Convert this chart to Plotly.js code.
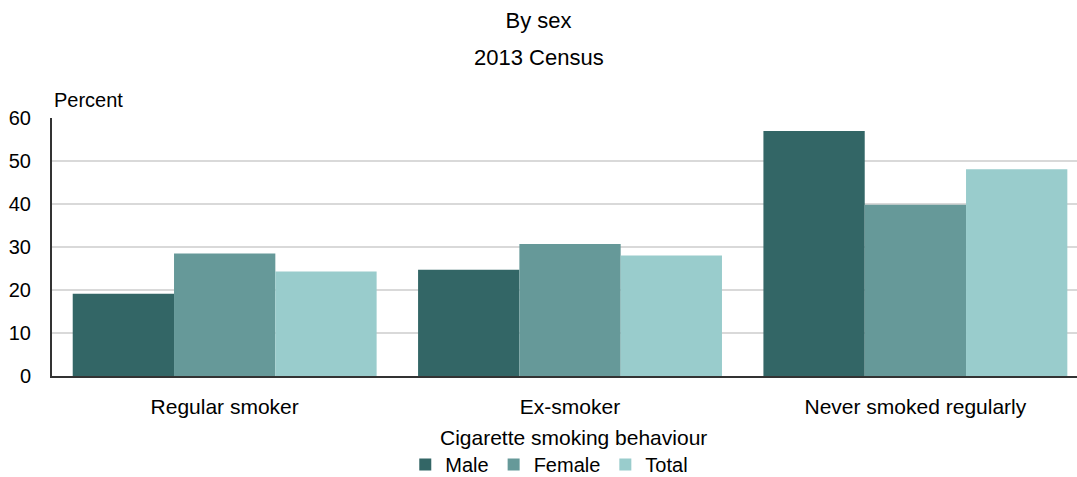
<!DOCTYPE html>
<html>
<head>
<meta charset="utf-8">
<script src="https://cdn.plot.ly/plotly-3.0.1.min.js"></script>
<style>
html,body{margin:0;padding:0;background:#fff;overflow:hidden;}
#chart{width:1077px;height:477px;}
</style>
</head>
<body>
<div id="chart"></div>
<script>
var categories = ["Regular smoker", "Ex-smoker", "Never smoked regularly"];
var maleValues = [19.1, 24.7, 57.0];
var femaleValues = [28.5, 30.7, 39.8];
var totalValues = [24.3, 28.0, 48.1];
var seriesNames = ["Male", "Female", "Total"];
var yTickValues = [0, 10, 20, 30, 40, 50, 60];
var xAxisTitle = "Cigarette smoking behaviour";

var colors = ["#336666", "#669999", "#99CCCC"];
var seriesValues = [maleValues, femaleValues, totalValues];

var traces = seriesNames.map(function (name, i) {
  return {
    type: "bar",
    name: name,
    x: categories,
    y: seriesValues[i],
    marker: { color: colors[i], line: { width: 0 } },
    hoverinfo: "x+y+name"
  };
});

var font = "Liberation Sans, Arial, sans-serif";
var plotH = 258;

var layout = {
  width: 1077,
  height: 477,
  margin: { l: 52, r: 0, t: 118, b: 101, pad: 0, autoexpand: false },
  paper_bgcolor: "#ffffff",
  plot_bgcolor: "#ffffff",
  font: { family: font, size: 20, color: "#000000" },
  barmode: "group",
  bargap: 0.12,
  bargroupgap: 0,
  title: {
    text: "By sex",
    x: 0.5,
    xref: "container",
    xanchor: "center",
    y: 1 - 20 / 477,
    yref: "container",
    yanchor: "middle",
    font: { family: font, size: 22, color: "#000000" }
  },
  annotations: [
    {
      text: "2013 Census",
      xref: "paper",
      yref: "paper",
      x: (538.5 - 52) / 1025,
      y: 1 + (118 - 57) / plotH,
      xanchor: "center",
      yanchor: "middle",
      showarrow: false,
      font: { family: font, size: 22, color: "#000000" }
    },
    {
      text: "Percent",
      xref: "paper",
      yref: "paper",
      x: 0,
      y: 1 + (118 - 100) / plotH,
      xanchor: "left",
      yanchor: "middle",
      showarrow: false,
      font: { family: font, size: 20, color: "#000000" }
    },
    {
      text: xAxisTitle,
      xref: "paper",
      yref: "paper",
      x: (573 - 52) / 1025,
      y: (376 - 437) / plotH,
      xanchor: "center",
      yanchor: "middle",
      showarrow: false,
      font: { family: font, size: 21, color: "#000000" }
    }
  ],
  xaxis: {
    type: "category",
    range: [-0.5, 2.468],
    showgrid: false,
    showline: true,
    linecolor: "#333333",
    linewidth: 2,
    ticks: "",
    tickangle: 0,
    ticklabelstandoff: 11,
    tickfont: { family: font, size: 21, color: "#000000" },
    fixedrange: true,
    automargin: false
  },
  yaxis: {
    range: [0, 60],
    tickvals: yTickValues,
    ticktext: yTickValues.map(String),
    showgrid: true,
    gridcolor: "#d9d9d9",
    gridwidth: 2,
    showline: true,
    linecolor: "#333333",
    linewidth: 2,
    zeroline: false,
    ticks: "",
    ticklabelstandoff: 15,
    tickfont: { family: font, size: 20, color: "#000000" },
    fixedrange: true,
    automargin: false
  },
  showlegend: true,
  legend: {
    orientation: "h",
    xref: "container",
    yref: "container",
    x: 0.51,
    xanchor: "center",
    y: (477 - 445) / 477,
    yanchor: "top",
    font: { family: font, size: 20, color: "#000000" },
    itemwidth: 30,
    tracegroupgap: 0,
    borderwidth: 0,
    bgcolor: "rgba(0,0,0,0)"
  }
};

Plotly.newPlot("chart", traces, layout, { displayModeBar: false, staticPlot: true });
</script>
</body>
</html>
